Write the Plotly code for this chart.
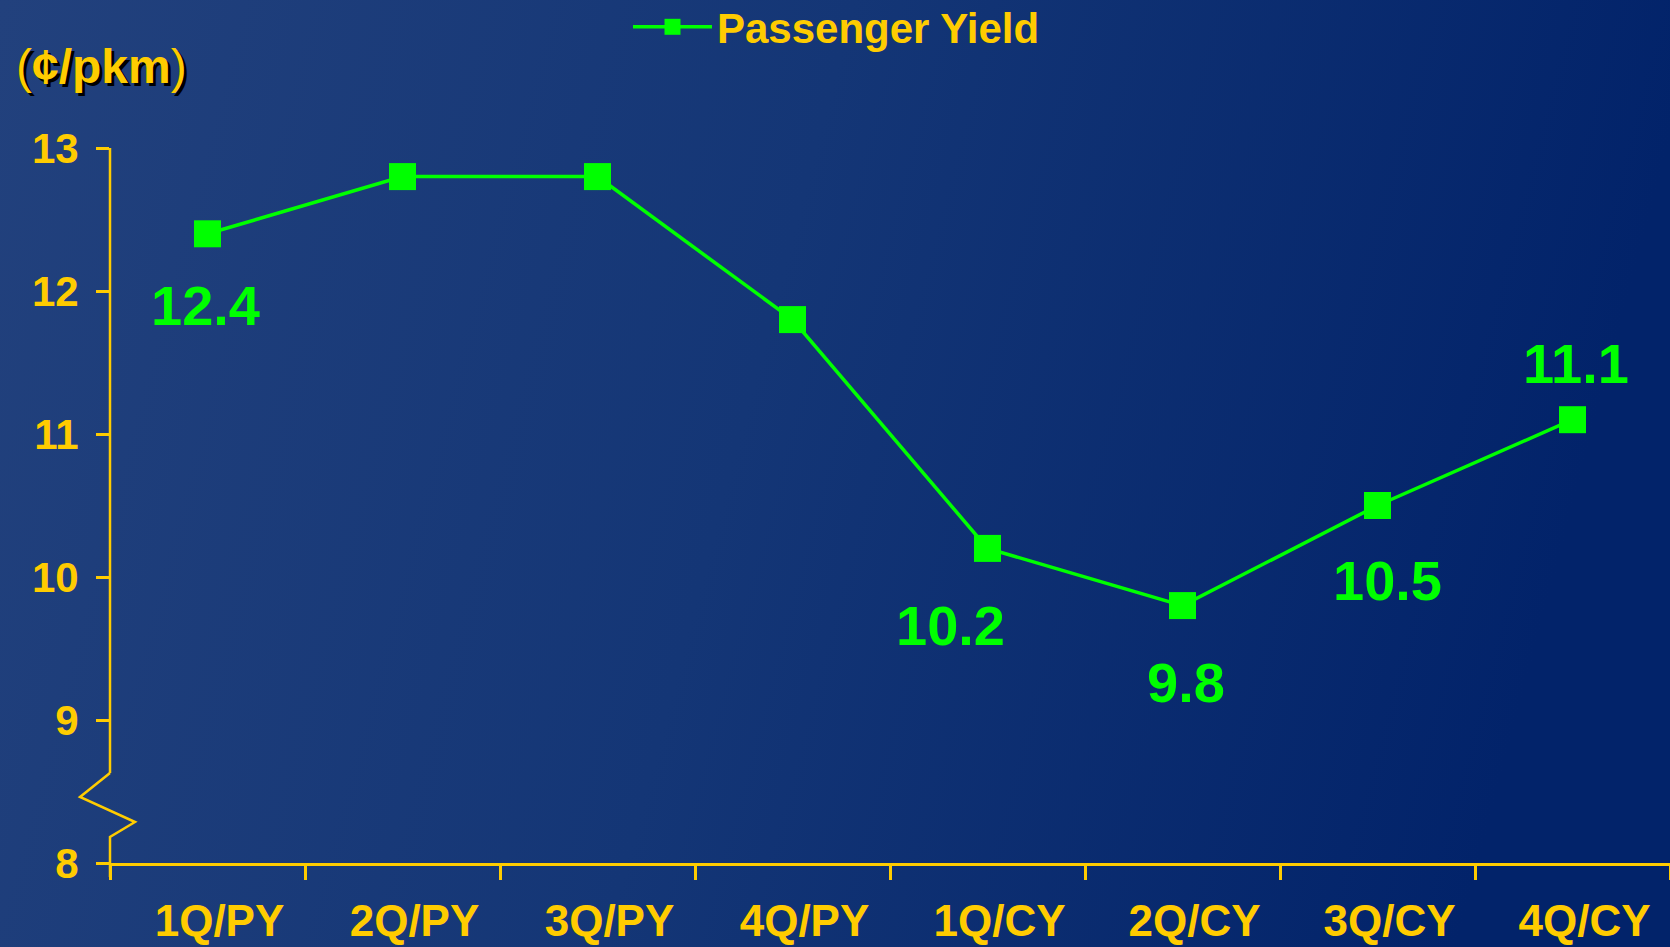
import base64
import plotly.graph_objects as go

# ---- data ----
quarters = ["1Q/PY", "2Q/PY", "3Q/PY", "4Q/PY", "1Q/CY", "2Q/CY", "3Q/CY", "4Q/CY"]
passenger_yield = [12.4, 12.8, 12.8, 11.8, 10.2, 9.8, 10.5, 11.1]
labelled = [True, False, False, False, True, True, True, True]
y_ticks = [8, 9, 10, 11, 12, 13]

W, H = 1670, 947
ML, MR, MT, MB = 110, 0, 148, 84
PW, PH = W - ML - MR, H - MT - MB
Y0, Y1 = 8, 13

YELLOW = "#FFCC00"
GREEN = "#00FF00"
FONT = "Liberation Sans, Arial, sans-serif"

# label offsets (pixels) relative to markers
label_shift = {0: (-2, -72), 4: (-37, -77), 5: (3, -77), 6: (10, -75), 7: (3, 56)}

fig = go.Figure()
fig.add_trace(go.Scatter(
    x=quarters, y=passenger_yield, mode="lines+markers", name="Passenger Yield",
    line=dict(color=GREEN, width=3.5),
    marker=dict(symbol="square", size=27, color=GREEN),
    cliponaxis=False,
))

annotations = []
for i, (q, v) in enumerate(zip(quarters, passenger_yield)):
    if not labelled[i]:
        continue
    dx, dy = label_shift[i]
    annotations.append(dict(
        x=q, y=v, xref="x", yref="y", text=f"{v:g}", showarrow=False,
        xshift=dx, yshift=dy, xanchor="center", yanchor="middle",
        font=dict(family=FONT, size=56, color=GREEN, weight="bold"),
    ))

annotations.append(dict(
    x=(14 - ML) / PW, y=1 + (MT - 66) / PH, xref="paper", yref="paper",
    xanchor="left", yanchor="middle", showarrow=False,
    text="(<b>¢/pkm</b>)",
    font=dict(family=FONT, size=48, color=YELLOW, shadow="3px 3px 0px #000000"),
))

# background gradient
svg = f'''<svg xmlns="http://www.w3.org/2000/svg" width="{W}" height="{H}">
<defs><linearGradient id="g" x1="0" y1="0" x2="1" y2="0.15">
<stop offset="0" stop-color="#22417D"/><stop offset="0.5" stop-color="#143676"/>
<stop offset="1" stop-color="#02236A"/></linearGradient></defs>
<rect width="{W}" height="{H}" fill="url(#g)"/></svg>'''
bg = "data:image/svg+xml;base64," + base64.b64encode(svg.encode()).decode()


def px(xp):
    return (xp - ML) / PW


def py(yp):
    return (H - MB - yp) / PH


def yv(v):
    return (v - Y0) / (Y1 - Y0)


axis_line = dict(color=YELLOW, width=2.5)
shapes = [
    dict(type="line", xref="paper", yref="paper", x0=0, x1=0, y0=yv(13), y1=py(773), line=axis_line),
    dict(type="path", xref="paper", yref="paper",
         path=f"M {px(110)} {py(773)} L {px(80)} {py(797)} L {px(135)} {py(822)} L {px(110)} {py(837)} L {px(110)} {py(877)}",
         line=axis_line),
]

fig.update_layout(
    width=W, height=H,
    margin=dict(l=ML, r=MR, t=MT, b=MB, pad=0, autoexpand=False),
    paper_bgcolor="#143676", plot_bgcolor="rgba(0,0,0,0)",
    images=[dict(source=bg, xref="paper", yref="paper", x=-ML / PW, y=1 + MT / PH,
                 sizex=W / PW, sizey=H / PH, sizing="stretch", layer="below", xanchor="left", yanchor="top")],
    showlegend=True,
    legend=dict(
        xref="container", yref="container", x=628 / W, y=1 - 27 / H, xanchor="left", yanchor="middle",
        orientation="h", bgcolor="rgba(0,0,0,0)",
        font=dict(family=FONT, size=42, color=YELLOW, weight="bold"),
        itemwidth=79,
    ),
    xaxis=dict(
        type="category", range=[-0.5, 7.5], showgrid=False, zeroline=False, automargin=False,
        showline=True, linecolor=YELLOW, linewidth=2.5,
        ticks="outside", tickson="boundaries", ticklen=14, tickwidth=2.5, tickcolor=YELLOW,
        tickfont=dict(family=FONT, size=44, color=YELLOW, weight="bold"),
        ticklabelstandoff=17, ticklabelshift=12,
    ),
    yaxis=dict(
        range=[Y0, Y1], tickvals=y_ticks, showgrid=False, zeroline=False, showline=False, automargin=False,
        ticks="outside", ticklen=13, tickwidth=2.5, tickcolor=YELLOW,
        tickfont=dict(family=FONT, size=42, color=YELLOW, weight="bold"),
        ticklabelstandoff=9,
    ),
    annotations=annotations,
    shapes=shapes,
)

fig.write_html("out.html")
